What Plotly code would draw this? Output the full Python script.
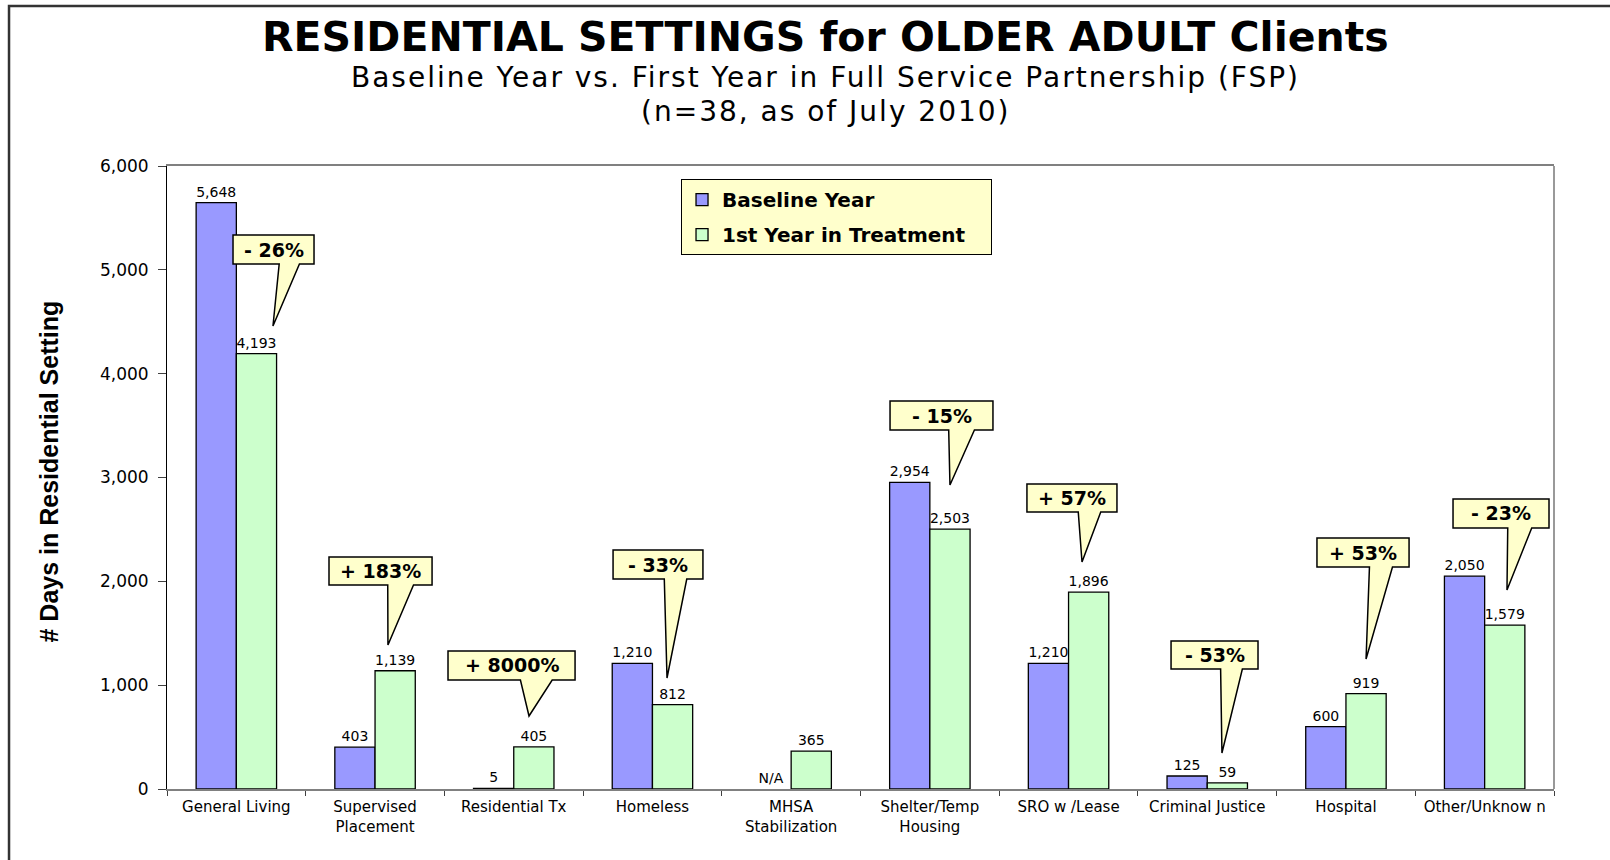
import plotly.graph_objects as go

# ---- data ----
categories = ["General Living", "Supervised<br>Placement", "Residential Tx", "Homeless",
              "MHSA<br>Stabilization", "Shelter/Temp<br>Housing", "SRO w /Lease",
              "Criminal Justice", "Hospital", "Other/Unknow n"]
baseline_days = [5648, 403, 5, 1210, None, 2954, 1210, 125, 600, 2050]
treatment_days = [4193, 1139, 405, 812, 365, 2503, 1896, 59, 919, 1579]
y_ticks = [0, 1000, 2000, 3000, 4000, 5000, 6000]

series_names = ["Baseline Year", "1st Year in Treatment"]

# ---- callout placement (axis units): category, box left, box right, box top, box bottom, tip x, tip y ----
callout_layout = [
    (0, -0.024, 0.560, 5335, 5056, 0.264, 4459),
    (1, 0.668, 1.411, 2234, 1965, 1.093, 1387),
    (2, 1.526, 2.442, 1329, 1050, 2.110, 703),
    (3, 2.716, 3.364, 2302, 2022, 3.105, 1069),
    (5, 4.713, 5.455, 3737, 3457, 5.145, 2928),
    (6, 5.700, 6.349, 2937, 2668, 6.097, 2186),
    (7, 6.739, 7.366, 1425, 1156, 7.106, 347),
    (8, 7.791, 8.455, 2417, 2138, 8.145, 1252),
    (9, 8.772, 9.464, 2793, 2514, 9.161, 1917),
]

SMALL = "DejaVu Sans"
BLUE = "#9999FF"
GREEN = "#CCFFCC"
NOTE_FILL = "#FFFFCC"
PAD = "\u00a0\u00a0\u00a0"

x_pos = list(range(len(categories)))

base_vals = [v if v is not None else 0 for v in baseline_days]
base_text = [f"{v:,}" if v is not None else "N/A" for v in baseline_days]
base_line = [1.3 if v is not None else 0 for v in baseline_days]

fig = go.Figure()
fig.add_trace(go.Bar(
    x=x_pos, y=base_vals, name=series_names[0] + PAD, legendgroup="a",
    marker=dict(color=BLUE, line=dict(color="black", width=base_line)),
    text=base_text, textposition="outside", constraintext="none", cliponaxis=False,
    textfont=dict(family=SMALL, size=14, color="black"), hoverinfo="skip",
))
fig.add_trace(go.Bar(
    x=x_pos, y=treatment_days, name=series_names[1] + PAD, legendgroup="b",
    marker=dict(color=GREEN, line=dict(color="black", width=1.3)),
    text=[f"{v:,}" for v in treatment_days], textposition="outside",
    constraintext="none", cliponaxis=False,
    textfont=dict(family=SMALL, size=14, color="black"), hoverinfo="skip",
))
# carrier for the category label axis (draws nothing)
fig.add_trace(go.Scatter(
    x=x_pos, y=[0] * len(x_pos), xaxis="x2", yaxis="y", mode="markers",
    marker=dict(opacity=0, size=1), showlegend=False, hoverinfo="skip",
))

shapes = []
annotations = []

# speech-bubble callouts with percent change
for idx, x0, x1, yt, yb, tx, ty in callout_layout:
    b, t = baseline_days[idx], treatment_days[idx]
    pct = (t - b) / b * 100
    label = f"{'+' if pct > 0 else '-'} {abs(pct):.0f}%"
    w = x1 - x0
    bl, br = x0 + 0.57 * w, x0 + 0.82 * w
    path = (f"M {x0},{yt} L {x1},{yt} L {x1},{yb} L {br},{yb} L {tx},{ty} "
            f"L {bl},{yb} L {x0},{yb} Z")
    shapes.append(dict(type="path", xref="x", yref="y", path=path,
                       fillcolor=NOTE_FILL, line=dict(color="black", width=1.5),
                       layer="above"))
    annotations.append(dict(x=(x0 + x1) / 2, y=(yt + yb) / 2, xref="x", yref="y",
                            text=label, showarrow=False,
                            font=dict(family=SMALL, size=19, color="black", weight="bold")))

# right border of the plot area
shapes.append(dict(type="line", xref="paper", yref="paper", x0=1, x1=1, y0=0, y1=1,
                   line=dict(color="#999999", width=2)))
# outer frame (top and left edges)
shapes.append(dict(type="path", xref="paper", yref="paper",
                   path="M -0.1139,-0.3 L -0.1139,1.2568 L 1.2,1.2568",
                   line=dict(color="#333333", width=2.5)))


def spaced(s):
    return f'<span style="letter-spacing:2px">{s}</span>'


annotations += [
    dict(text="RESIDENTIAL SETTINGS for OLDER ADULT Clients", x=0.4751, y=1.2071,
         xref="paper", yref="paper", showarrow=False, xanchor="center", yanchor="middle",
         font=dict(family=SMALL, size=41, color="black", weight="bold")),
    dict(text=spaced("Baseline Year vs. First Year in Full Service Partnership (FSP)"),
         x=0.4751, y=1.1413, xref="paper", yref="paper", showarrow=False,
         xanchor="center", yanchor="middle",
         font=dict(family=SMALL, size=28, color="black")),
    dict(text=spaced("(n=38, as of July 2010)"), x=0.4751, y=1.0880, xref="paper",
         yref="paper", showarrow=False, xanchor="center", yanchor="middle",
         font=dict(family=SMALL, size=28, color="black")),
    dict(text="# Days in Residential Setting", x=-0.0851, y=0.5096, xref="paper",
         yref="paper", showarrow=False, textangle=-90, xanchor="center", yanchor="middle",
         font=dict(family="Liberation Sans, Arial", size=25, color="black", weight="bold")),
]

fig.update_layout(
    width=1610, height=860,
    margin=dict(l=167, r=56, t=166, b=71),
    barmode="group", bargap=0.42, bargroupgap=0,
    plot_bgcolor="white", paper_bgcolor="white",
    showlegend=True,
    legend=dict(x=0.3706, y=0.979, xanchor="left", yanchor="top",
                bgcolor=NOTE_FILL, bordercolor="black", borderwidth=1,
                tracegroupgap=6, traceorder="grouped",
                font=dict(family=SMALL, size=20, color="black", weight="bold")),
    shapes=shapes, annotations=annotations,
    xaxis=dict(range=[-0.5, len(categories) - 0.5], tickmode="array",
               tickvals=[i - 0.5 for i in range(len(categories) + 1)],
               showticklabels=False, ticks="outside", ticklen=5, tickcolor="#404040",
               showline=True, linecolor="#808080", linewidth=2, mirror=True,
               showgrid=False, zeroline=False, fixedrange=True),
    xaxis2=dict(overlaying="x", anchor="y", side="bottom",
                range=[-0.5, len(categories) - 0.5], tickmode="array",
                tickvals=x_pos, ticktext=categories, ticks="",
                tickfont=dict(family=SMALL, size=15, color="black"),
                showline=False, showgrid=False, zeroline=False, ticklabelstandoff=7,
                fixedrange=True),
    yaxis=dict(range=[0, 6000], tickmode="array", tickvals=y_ticks, tickformat=",",
               ticks="outside", ticklen=8, tickcolor="#404040",
               tickfont=dict(family=SMALL, size=17, color="black"),
               ticklabelstandoff=6,
               showline=True, linecolor="black", linewidth=1,
               showgrid=False, zeroline=False, fixedrange=True),
)

fig.write_html("out.html")
